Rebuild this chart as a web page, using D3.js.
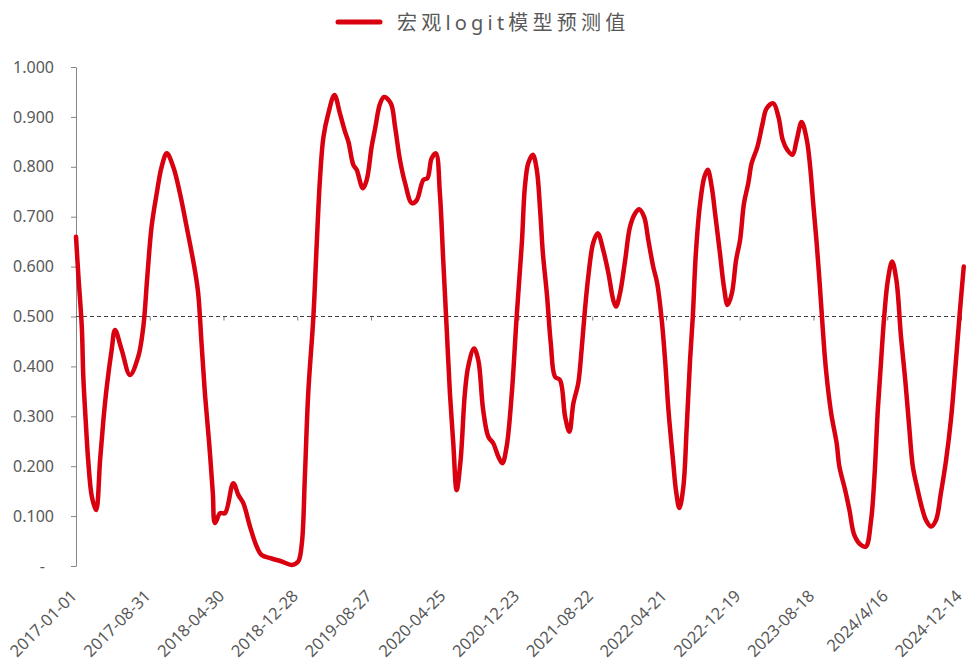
<!DOCTYPE html>
<html>
<head>
<meta charset="utf-8">
<script src="https://cdn.jsdelivr.net/npm/d3@7/dist/d3.min.js"></script>
<style>
  body { margin: 0; background: #fff; }
  text { font-family: "Noto Sans", "Noto Sans CJK SC", sans-serif; fill: #595959; }
</style>
</head>
<body>
<script>
// x轴标签（每隔242天一个）
var tickLabels = ["2017-01-01", "2017-08-31", "2018-04-30", "2018-12-28", "2019-08-27",
  "2020-04-25", "2020-12-23", "2021-08-22", "2022-04-21", "2022-12-19",
  "2023-08-18", "2024/4/16", "2024-12-14"];
var tickStep = 242;

var seriesName = "宏观logit模型预测值";

// 距2017-01-01的天数
var days = [0, 8, 19, 24, 33, 40, 52, 66, 79, 90, 101, 117, 128, 150, 177, 204, 221, 234, 248, 265,
  281, 298, 319, 341, 363, 390, 401, 412, 423, 437, 449, 456, 473, 489, 516, 533, 549, 571, 593, 609,
  642, 675, 708, 729, 741, 751, 762, 779, 790, 801, 812, 828, 848, 866, 883, 894, 910, 921, 941, 954,
  970, 981, 998, 1011, 1033, 1047, 1063, 1080, 1102, 1118, 1140, 1153, 1167, 1181, 1194, 1205, 1216, 1227, 1238, 1249,
  1262, 1276, 1287, 1306, 1320, 1336, 1353, 1369, 1386, 1399, 1413, 1430, 1446, 1463, 1473, 1484, 1499, 1512, 1523, 1532,
  1545, 1558, 1572, 1588, 1605, 1619, 1632, 1648, 1659, 1670, 1681, 1697, 1712, 1730, 1747, 1763, 1772, 1785, 1802, 1818,
  1835, 1848, 1864, 1878, 1894, 1907, 1922, 1933, 1944, 1959, 1969, 1980, 1993, 2004, 2015, 2024, 2034, 2048, 2062, 2073,
  2086, 2097, 2113, 2126, 2138, 2152, 2166, 2179, 2192, 2206, 2217, 2236, 2253, 2266, 2288, 2305, 2319, 2334, 2351, 2365,
  2381, 2398, 2409, 2419, 2430, 2441, 2451, 2461, 2478, 2496, 2505, 2524, 2538, 2554, 2576, 2592, 2609, 2620, 2631, 2642,
  2652, 2664, 2678, 2692, 2707, 2721, 2734, 2746, 2762, 2778, 2789, 2806, 2822, 2838, 2855, 2871, 2885, 2899, 2913];

var values = [0.660, 0.580, 0.480, 0.379, 0.279, 0.212, 0.139, 0.112, 0.212, 0.293, 0.359, 0.433, 0.473, 0.433, 0.383, 0.419, 0.480, 0.580, 0.680, 0.747,
  0.800, 0.827, 0.800, 0.747, 0.680, 0.593, 0.546, 0.446, 0.346, 0.246, 0.146, 0.086, 0.106, 0.106, 0.166, 0.142, 0.126, 0.079, 0.039, 0.022,
  0.015, 0.009, 0.002, 0.009, 0.045, 0.179, 0.346, 0.500, 0.647, 0.780, 0.860, 0.907, 0.944, 0.907, 0.870, 0.850, 0.804, 0.794, 0.757, 0.774,
  0.840, 0.875, 0.927, 0.940, 0.927, 0.880, 0.814, 0.767, 0.727, 0.733, 0.774, 0.777, 0.817, 0.827, 0.747, 0.613, 0.480, 0.346, 0.246, 0.152,
  0.212, 0.346, 0.400, 0.436, 0.413, 0.313, 0.259, 0.246, 0.219, 0.206, 0.239, 0.346, 0.500, 0.647, 0.760, 0.807, 0.824, 0.794, 0.713, 0.627,
  0.546, 0.446, 0.379, 0.373, 0.299, 0.269, 0.326, 0.366, 0.433, 0.513, 0.580, 0.647, 0.667, 0.633, 0.587, 0.533, 0.520, 0.546, 0.613, 0.680,
  0.707, 0.715, 0.700, 0.653, 0.600, 0.567, 0.493, 0.413, 0.313, 0.212, 0.150, 0.116, 0.159, 0.279, 0.413, 0.500, 0.627, 0.727, 0.780, 0.794,
  0.760, 0.707, 0.627, 0.560, 0.523, 0.546, 0.613, 0.653, 0.727, 0.767, 0.807, 0.840, 0.887, 0.917, 0.927, 0.900, 0.854, 0.834, 0.824, 0.854,
  0.890, 0.854, 0.800, 0.727, 0.650, 0.560, 0.470, 0.393, 0.306, 0.246, 0.199, 0.152, 0.112, 0.062, 0.042, 0.039, 0.092, 0.179, 0.313, 0.413,
  0.500, 0.573, 0.610, 0.573, 0.460, 0.373, 0.279, 0.199, 0.152, 0.112, 0.092, 0.079, 0.092, 0.146, 0.212, 0.293, 0.393, 0.500, 0.600];

var yTicks = [0, 0.1, 0.2, 0.3, 0.4, 0.5, 0.6, 0.7, 0.8, 0.9, 1.0];
var baseline = 0.5;

var data = days.map(function(d, i){ return {day: d, value: values[i]}; });

var width = 966,
    height = 662;

var svg = d3.select("body").append("svg")
    .attr("width", width)
    .attr("height", height);

var x = d3.scaleLinear()
    .domain([0, tickStep * (tickLabels.length - 1)])
    .range([76, 961]);

var y = d3.scaleLinear()
    .domain([0, 1])
    .range([566, 67]);

// 纵轴
var yAxis = d3.axisLeft(y)
    .tickValues(yTicks)
    .tickSize(5)
    .tickSizeOuter(0)
    .tickPadding(17)
    .tickFormat(function(d){ return d === 0 ? "-" : d3.format(".3f")(d); });

var gy = svg.append("g")
    .attr("transform", "translate(76,0)")
    .call(yAxis);
gy.select(".domain").attr("stroke", "#868686");
gy.selectAll(".tick line").attr("stroke", "#868686");
gy.selectAll(".tick text")
    .attr("font-size", 16)
    .attr("font-family", null)
    .attr("fill", "#595959")
    .attr("dx", function(d){ return d === 0 ? -9 : 0; });

// 横轴，穿过0.5处的虚线
var xAxis = d3.axisBottom(x)
    .tickValues(d3.range(tickLabels.length).map(function(i){ return i * tickStep; }))
    .tickSize(4)
    .tickSizeOuter(0)
    .tickFormat("");

var gx = svg.append("g")
    .attr("transform", "translate(0," + y(baseline) + ")")
    .call(xAxis);
gx.select(".domain").remove();
gx.selectAll(".tick line").attr("stroke", "#7f7f7f");
gx.append("line")
    .attr("x1", x.range()[0])
    .attr("x2", 965)
    .attr("stroke", "#404040")
    .attr("stroke-width", 1)
    .attr("stroke-dasharray", "4,3");

// 斜着的日期标签
svg.append("g").selectAll("text")
    .data(tickLabels)
  .enter().append("text")
    .attr("transform", function(d, i){
      return "translate(" + (x(i * tickStep) + 2) + ",597) rotate(-45)";
    })
    .attr("text-anchor", "end")
    .attr("font-size", 16.5)
    .text(function(d){ return d; });

// 折线
var line = d3.line()
    .x(function(d){ return x(d.day); })
    .y(function(d){ return y(d.value); })
    .curve(d3.curveCatmullRom.alpha(0.5));

svg.append("path")
    .datum(data)
    .attr("fill", "none")
    .attr("stroke", "#d9000f")
    .attr("stroke-width", 4.5)
    .attr("stroke-linejoin", "round")
    .attr("stroke-linecap", "round")
    .attr("d", line);

// 图例
var legend = svg.append("g");
legend.append("line")
    .attr("x1", 338).attr("x2", 380)
    .attr("y1", 22).attr("y2", 22)
    .attr("stroke", "#d9000f")
    .attr("stroke-width", 5)
    .attr("stroke-linecap", "round");
legend.append("text")
    .attr("x", 397)
    .attr("y", 30)
    .attr("font-size", 20)
    .attr("letter-spacing", 4.2)
    .text(seriesName);
</script>
</body>
</html>
